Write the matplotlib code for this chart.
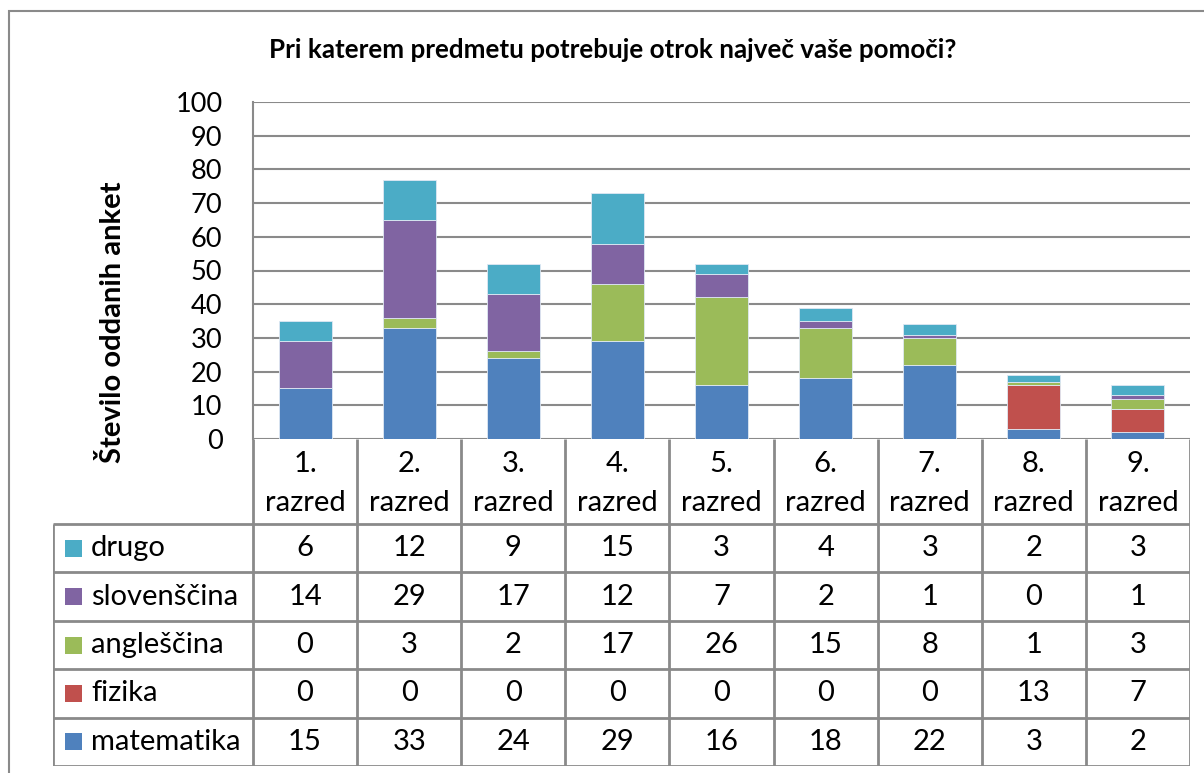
import matplotlib
matplotlib.use("Agg")
import matplotlib.pyplot as plt
from matplotlib.patches import Rectangle
import numpy as np

plt.rcParams["font.family"] = ["Lato", "DejaVu Sans"]

# data
razredi = ["1.\nrazred", "2.\nrazred", "3.\nrazred", "4.\nrazred", "5.\nrazred",
           "6.\nrazred", "7.\nrazred", "8.\nrazred", "9.\nrazred"]
matematika = [15, 33, 24, 29, 16, 18, 22, 3, 2]
fizika = [0, 0, 0, 0, 0, 0, 0, 13, 7]
anglescina = [0, 3, 2, 17, 26, 15, 8, 1, 3]
slovenscina = [14, 29, 17, 12, 7, 2, 1, 0, 1]
drugo = [6, 12, 9, 15, 3, 4, 3, 2, 3]

series = [("matematika", matematika, "#4F81BD"),
          ("fizika", fizika, "#C0504D"),
          ("angleščina", anglescina, "#9BBB59"),
          ("slovenščina", slovenscina, "#8064A2"),
          ("drugo", drugo, "#4BACC6")]

W, H = 1204, 773
fig = plt.figure(figsize=(W / 100, H / 100), dpi=100)
grid_c = "#8a8a8a"
fs = 21

# outer chart border (cut off on right and bottom)
fig.add_artist(Rectangle((9 / W, -0.1), 1.2, 1 - 11 / H + 0.1, transform=fig.transFigure,
                         fill=False, edgecolor=grid_c, lw=1.5))

ax = fig.add_axes([253 / W, 1 - 439 / H, (1190 - 253) / W, (439 - 102) / H])
x = np.arange(len(razredi))
bottom = np.zeros(len(razredi))
for name, vals, col in series:
    ax.bar(x, vals, 0.51, bottom=bottom, color=col, edgecolor="#dfe8f3", lw=0.6, zorder=3)
    bottom += np.array(vals)

ax.set_xlim(-0.5, len(razredi) - 0.5)
ax.set_ylim(0, 100)
ax.set_yticks(range(0, 101, 10))
ax.yaxis.grid(True, color=grid_c, lw=1.5, zorder=0)
ax.set_xticks([])
for s in ["top", "right", "bottom"]:
    ax.spines[s].set_visible(False)
ax.spines["left"].set_color(grid_c)
ax.spines["left"].set_linewidth(1.5)
ax.tick_params(axis="y", length=0, pad=22, labelsize=19.5)
ax.set_ylabel("Število oddanih anket", fontsize=21, fontweight="bold")
ax.yaxis.set_label_coords((126 - 253) / (1190 - 253), (439 - 322) / (439 - 102))
fig.text(613 / W, 1 - 50 / H, "Pri katerem predmetu potrebuje otrok največ vaše pomoči?",
         ha="center", va="center", fontsize=18.7, fontweight="bold")

# data table below the plot
col_w = (1190 - 253) / len(razredi)
x_left = -0.5 - (253 - 53) / col_w
tab = fig.add_axes([53 / W, 1 - 766 / H, (1190 - 53) / W, (766 - 439) / H])
tab.set_xlim(x_left, len(razredi) - 0.5)
tab.set_ylim(0, 766 - 439)
tab.axis("off")

head_h = 85
row_h = (766 - 439 - head_h) / len(series)
top = 766 - 439
edges = np.arange(len(razredi) + 1) - 0.5
tab.vlines(edges, 0, top, color=grid_c, lw=2)
tab.vlines([x_left], 0, top - head_h, color=grid_c, lw=2)
rows = list(reversed(series))
for r in range(len(rows) + 1):
    yy = top - head_h - r * row_h
    tab.hlines(yy, x_left, len(razredi) - 0.5, color=grid_c, lw=2)

for i, lab in enumerate(razredi):
    tab.text(i, top - head_h / 2 - 2, lab, ha="center", va="center", fontsize=fs, linespacing=1.6)

for r, (name, vals, col) in enumerate(rows):
    yc = top - head_h - (r + 0.5) * row_h
    tab.add_patch(Rectangle((x_left + 12 / col_w, yc - 8.5), 17 / col_w, 17,
                            facecolor=col, edgecolor="none"))
    tab.text(x_left + 38 / col_w, yc, name, ha="left", va="center", fontsize=fs)
    for i, v in enumerate(vals):
        tab.text(i, yc, str(v), ha="center", va="center", fontsize=fs)

fig.savefig("out.png", dpi=100)
